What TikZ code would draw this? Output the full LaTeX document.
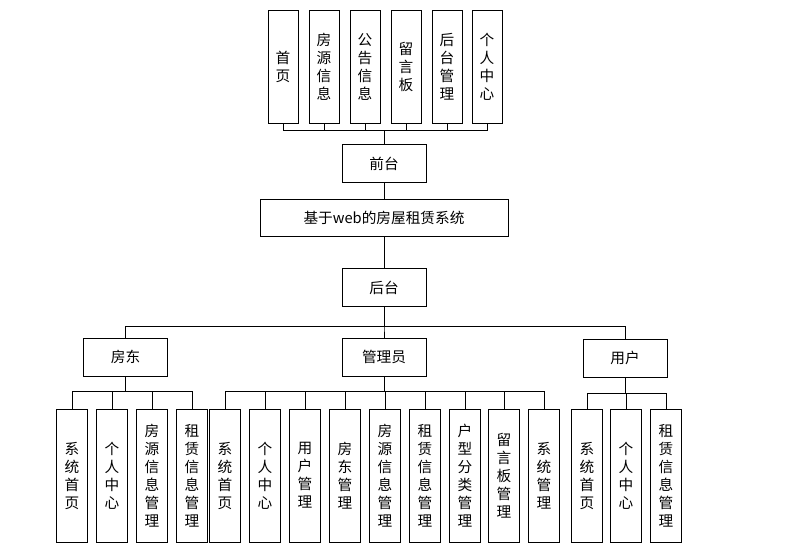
\documentclass[tikz,border=0pt]{standalone}
\usepackage{fontspec}
\setmainfont{Noto Sans CJK SC}
\begin{document}
\begin{tikzpicture}[x=0.75pt, y=-0.75pt, line width=0.6pt,
  every node/.style={font=\fontsize{11}{13.5}\selectfont},
  hbox/.style={draw, minimum width=63pt, minimum height=28.5pt, inner sep=0pt},
  topbox/.style={draw, align=center, minimum width=22.5pt, minimum height=84.75pt, inner sep=0pt},
  subbox/.style={draw, align=center, minimum width=23pt, minimum height=99.75pt, inner sep=0pt}]
  \useasboundingbox (0,0) rectangle (795,551);

  % front end
  \node[topbox] (t1) at (283,66.5) {首\\页};
  \node[topbox] (t2) at (324,66.5) {房\\源\\信\\息};
  \node[topbox] (t3) at (365,66.5) {公\\告\\信\\息};
  \node[topbox] (t4) at (406,66.5) {留\\言\\板};
  \node[topbox] (t5) at (447,66.5) {后\\台\\管\\理};
  \node[topbox] (t6) at (487,66.5) {个\\人\\中\\心};
  \node[hbox] (qt) at (384,163.5) {前台};

  \node[draw, minimum width=186pt, minimum height=27.75pt] (sys) at (384,217.5) {基于web的房屋租赁系统};
  \node[hbox] (ht) at (384,287.5) {后台};

  % roles
  \node[hbox] (fd)  at (125.5,357) {房东};
  \node[hbox] (gly) at (384,357)   {管理员};
  \node[hbox] (yh)  at (625,358)   {用户};

  \node[subbox] (fd1) at (72,475.5)  {系\\统\\首\\页};
  \node[subbox] (fd2) at (112,475.5) {个\\人\\中\\心};
  \node[subbox] (fd3) at (152,475.5) {房\\源\\信\\息\\管\\理};
  \node[subbox] (fd4) at (192,475.5) {租\\赁\\信\\息\\管\\理};

  \node[subbox] (gl1) at (225,475.5) {系\\统\\首\\页};
  \node[subbox] (gl2) at (265,475.5) {个\\人\\中\\心};
  \node[subbox] (gl3) at (305,475.5) {用\\户\\管\\理};
  \node[subbox] (gl4) at (345,475.5) {房\\东\\管\\理};
  \node[subbox] (gl5) at (385,475.5) {房\\源\\信\\息\\管\\理};
  \node[subbox] (gl6) at (425,475.5) {租\\赁\\信\\息\\管\\理};
  \node[subbox] (gl7) at (465,475.5) {户\\型\\分\\类\\管\\理};
  \node[subbox] (gl8) at (504,475.5) {留\\言\\板\\管\\理};
  \node[subbox] (gl9) at (544,475.5) {系\\统\\管\\理};

  \node[subbox] (yh1) at (587,475.5) {系\\统\\首\\页};
  \node[subbox] (yh2) at (626,475.5) {个\\人\\中\\心};
  \node[subbox] (yh3) at (666,475.5) {租\\赁\\信\\息\\管\\理};

  % connectors
  \foreach \n in {t1,t2,t3,t4,t5,t6}
    \draw (qt.north) -- ++(0,-14) -| (\n.south);
  \draw (qt.south) -- (sys.north);
  \draw (sys.south) -- (ht.north);
  \foreach \n in {fd,gly,yh}
    \draw (ht.south) -- ++(0,19) -| (\n.north);
  \foreach \n in {fd1,fd2,fd3,fd4}
    \draw (fd.south) -- ++(0,15) -| (\n.north);
  \foreach \n in {gl1,gl2,gl3,gl4,gl5,gl6,gl7,gl8,gl9}
    \draw (gly.south) -- ++(0,15) -| (\n.north);
  \foreach \n in {yh1,yh2,yh3}
    \draw (yh.south) -- ++(0,16) -| (\n.north);
\end{tikzpicture}
\end{document}
